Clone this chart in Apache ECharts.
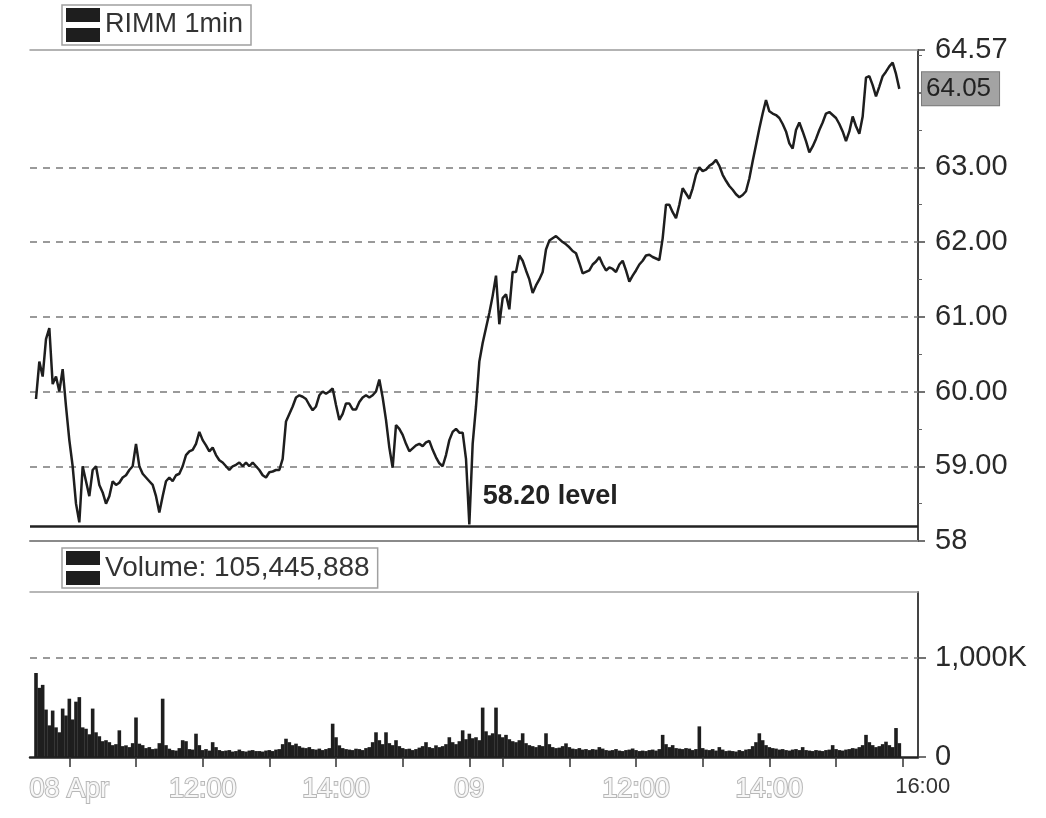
<!DOCTYPE html>
<html>
<head>
<meta charset="utf-8">
<script src="https://cdn.jsdelivr.net/npm/echarts@6/dist/echarts.min.js"></script>
<style>
html,body{margin:0;padding:0;background:#fff;}
#chart{width:1046px;height:818px;}
</style>
</head>
<body>
<div id="chart"></div>
<script>
// ---- data (3-minute samples, two sessions) ----
const symbolName = 'RIMM 1min';
const volumeName = 'Volume';
const volumeTotal = 105445888;

const day1Price = [
  59.9, 60.4, 60.2, 60.7, 60.85, 60.1, 60.2, 60.0, 60.3, 59.8,
  59.35, 59.0, 58.5, 58.25, 59.0, 58.8, 58.6, 58.95, 59.0, 58.75,
  58.65, 58.5, 58.6, 58.8, 58.75, 58.78, 58.85, 58.88, 58.95, 59.0,
  59.3, 59.0, 58.9, 58.85, 58.8, 58.75, 58.6, 58.38, 58.6, 58.8,
  58.85, 58.8, 58.88, 58.9, 59.0, 59.15, 59.2, 59.22, 59.3, 59.46,
  59.35, 59.28, 59.2, 59.25, 59.15, 59.08, 59.05, 59.0, 58.95, 59.0,
  59.02, 59.05, 59.0, 59.05, 59.0, 59.05, 59.0, 58.95, 58.88, 58.85,
  58.92, 58.93, 58.95, 58.95, 59.1, 59.6, 59.7, 59.8, 59.92, 59.95,
  59.93, 59.9, 59.82, 59.75, 59.8, 59.95, 60.0, 59.97, 60.0, 60.04,
  59.82, 59.62, 59.7, 59.84, 59.84, 59.76, 59.76, 59.86, 59.92, 59.95,
  59.92, 59.95, 60.0, 60.16, 59.92, 59.62, 59.25, 58.98, 59.55, 59.5,
  59.42, 59.3, 59.2, 59.24, 59.28, 59.3, 59.27, 59.32, 59.34, 59.22,
  59.12, 59.04, 59.0, 59.15, 59.35, 59.46, 59.5, 59.45, 59.45, 59.1
];
const day2Price = [
  58.22, 59.3, 59.8, 60.4, 60.65, 60.85, 61.05, 61.28, 61.55, 60.9,
  61.25, 61.3, 61.1, 61.6, 61.6, 61.82, 61.75, 61.62, 61.5, 61.32,
  61.42, 61.5, 61.6, 61.9, 62.02, 62.05, 62.08, 62.04, 62.0, 61.97,
  61.93, 61.88, 61.85, 61.72, 61.58, 61.6, 61.62, 61.7, 61.74, 61.8,
  61.7, 61.62, 61.66, 61.64, 61.6, 61.7, 61.75, 61.62, 61.47, 61.55,
  61.62, 61.7, 61.75, 61.82, 61.83, 61.8, 61.78, 61.76, 62.05, 62.5,
  62.5, 62.4, 62.32, 62.5, 62.72, 62.65, 62.58, 62.72, 62.9, 63.0,
  62.95, 62.97, 63.02, 63.05, 63.1, 63.02, 62.9, 62.82, 62.75, 62.7,
  62.64, 62.6, 62.63, 62.68, 62.85, 63.08, 63.3, 63.52, 63.72, 63.9,
  63.75, 63.72, 63.7, 63.66, 63.58, 63.48, 63.32, 63.25, 63.5, 63.6,
  63.48, 63.35, 63.2, 63.28, 63.38, 63.5, 63.6, 63.72, 63.74, 63.7,
  63.66, 63.58, 63.48, 63.35, 63.48, 63.68, 63.55, 63.45, 63.68, 64.2,
  64.22, 64.1, 63.95, 64.08, 64.22, 64.28, 64.35, 64.4, 64.25, 64.05
];
// volume in thousands of shares
const day1Volume = [
  850, 700, 730, 480, 320, 470, 300, 250, 490, 420,
  590, 380, 560, 606, 300, 286, 230, 490, 250, 210,
  160, 170, 150, 120, 130, 270, 110, 118, 100, 140,
  400, 135, 120, 90, 100, 80, 85, 140, 590, 120,
  84, 70, 65, 90, 170, 160, 80, 75, 236, 120,
  70, 80, 65, 150, 100, 70, 60, 65, 70, 55,
  60, 75, 60, 55, 65, 70, 60, 60, 55, 65,
  70, 60, 75, 80, 130, 185, 150, 120, 135, 110,
  95, 90, 100, 80, 75, 85, 70, 80, 90, 337,
  200, 118, 90, 80, 75, 70, 84, 80, 70, 90,
  100, 150, 250, 170, 130, 250, 140, 120, 170, 110,
  90, 80, 84, 70, 80, 95, 110, 150, 100, 90,
  118, 100, 110, 130, 200, 150, 130, 160, 270, 180
];
const day2Volume = [
  236, 190, 200, 170, 500, 260, 220, 240, 500, 230,
  200, 224, 180, 160, 150, 170, 240, 140, 120, 110,
  100, 120, 110, 240, 130, 100, 90, 95, 110, 138,
  100, 85, 80, 90, 75, 80, 70, 80, 75, 100,
  85, 70, 65, 70, 80, 65, 60, 70, 75, 86,
  70, 60, 65, 60, 70, 75, 65, 80, 224, 130,
  100, 120, 90, 85, 80, 90, 85, 70, 80, 310,
  90, 75, 70, 80, 65, 100, 75, 60, 65, 60,
  55, 70, 60, 75, 80, 110, 150, 240, 170, 120,
  100, 90, 85, 75, 80, 70, 65, 75, 80, 70,
  100, 70, 65, 60, 70, 65, 60, 70, 75, 120,
  80, 70, 65, 75, 80, 90, 85, 100, 120, 224,
  150, 120, 100, 110, 130, 155, 120, 100, 293, 140
];

// axis ticks / labels (x in 3-minute sample index)
const xTickIdx = [10, 30, 50, 70, 90, 110, 130, 140, 160, 180, 200, 220, 240, 260];
const xLabelIdx = [10, 50, 90, 130, 180, 220, 260];
const xLabelText = ['08 Apr', '12:00', '14:00', '09', '12:00', '14:00', '16:00'];
const priceTickValues = [58, 59, 60, 61, 62, 63, 64.57];
const priceTickText = ['58', '59.00', '60.00', '61.00', '62.00', '63.00', '64.57'];
const priceGridValues = [59, 60, 61, 62, 63];
const supportLevel = 58.20;
const supportText = '58.20 level';
const volTickValues = [0, 1000];
const volTickText = ['0', '1,000K'];
const volGridValues = [1000];

// ---- build ----
const prices = day1Price.concat(day2Price);
const volumes = day1Volume.concat(day2Volume);
const priceData = prices.map((v, i) => [i, v]);
const volData = volumes.map((v, i) => [i, v]);
const lastPrice = prices[prices.length - 1];

function commas(n) { return String(n).replace(/\B(?=(\d{3})+(?!\d))/g, ','); }

const FONT = 'Liberation Sans, Arial, Helvetica, sans-serif';
const INK = '#1e1e1e';
const XMIN = -1.8, XMAX = 264.6;

const chart = echarts.init(document.getElementById('chart'), null, {renderer: 'canvas'});
const iconPath = 'path://M0,0H34V14H0Z M0,20H34V34H0Z';

const dashed = {type: [7, 6], color: '#7a7a7a', width: 1.6};

chart.setOption({
  animation: false,
  backgroundColor: '#ffffff',
  textStyle: {fontFamily: FONT},
  legend: [
    {
      data: [symbolName], left: 62, top: 5, z: 10,
      icon: iconPath, itemWidth: 34, itemHeight: 34, itemGap: 8,
      backgroundColor: '#fff', borderColor: '#a0a0a0', borderWidth: 1.5,
      padding: [3, 8, 3, 4],
      textStyle: {fontSize: 27, color: '#333', fontFamily: FONT},
      selectedMode: false
    },
    {
      data: [volumeName], left: 62, top: 548, z: 10,
      icon: iconPath, itemWidth: 34, itemHeight: 34,
      backgroundColor: '#fff', borderColor: '#a0a0a0', borderWidth: 1.5,
      padding: [3, 8, 3, 4],
      formatter: n => n + ': ' + commas(volumeTotal),
      textStyle: {fontSize: 28, color: '#333', fontFamily: FONT},
      selectedMode: false
    }
  ],
  grid: [
    {left: 30, right: 128, top: 50, height: 491},
    {left: 30, right: 128, top: 592, height: 165}
  ],
  xAxis: [
    {type: 'value', gridIndex: 0, min: XMIN, max: XMAX, position: 'bottom',
     axisLine: {show: true, onZero: false, lineStyle: {color: '#8a8a8a', width: 2}},
     axisTick: {show: false}, axisLabel: {show: false}, splitLine: {show: false}},
    {type: 'value', gridIndex: 0, min: XMIN, max: XMAX, position: 'top',
     axisLine: {show: true, onZero: false, lineStyle: {color: '#9a9a9a', width: 1.5}},
     axisTick: {show: false}, axisLabel: {show: false}, splitLine: {show: false}},
    {type: 'value', gridIndex: 1, min: XMIN, max: XMAX, position: 'bottom',
     axisLine: {show: true, onZero: false, lineStyle: {color: '#222', width: 2.5}},
     axisTick: {show: true, customValues: xTickIdx, length: 10, lineStyle: {color: '#333', width: 1.5}},
     axisLabel: {
       show: true, customValues: xLabelIdx, margin: 19,
       formatter: v => {
         const k = xLabelIdx.indexOf(Math.round(v));
         const t = k >= 0 ? xLabelText[k] : '';
         return k === xLabelIdx.length - 1 ? '{last|' + t + '}' : '{f|' + t + '}';
       },
       rich: {
         f: {fontSize: 27, color: '#f7f7f7', textBorderColor: '#b8b8b8', textBorderWidth: 2, fontFamily: FONT},
         last: {fontSize: 22, color: '#333', padding: [0, 0, 0, 40], fontFamily: FONT}
       }
     },
     splitLine: {show: false}},
    {type: 'value', gridIndex: 1, min: XMIN, max: XMAX, position: 'top',
     axisLine: {show: true, onZero: false, lineStyle: {color: '#a0a0a0', width: 1.5}},
     axisTick: {show: false}, axisLabel: {show: false}, splitLine: {show: false}}
  ],
  yAxis: [
    {type: 'value', gridIndex: 0, position: 'right', min: 58, max: 64.57, interval: 1,
     axisLine: {show: true, onZero: false, lineStyle: {color: '#444', width: 2}},
     axisTick: {show: true, length: 7, lineStyle: {color: '#444', width: 1.5}},
     minorTick: {show: true, splitNumber: 2, length: 4, lineStyle: {color: '#666'}},
     axisLabel: {
       customValues: priceTickValues, margin: 17, fontSize: 29, color: '#2a2a2a', fontFamily: FONT,
       formatter: v => {
         const k = priceTickValues.findIndex(p => Math.abs(p - v) < 1e-6);
         return k >= 0 ? priceTickText[k] : '';
       }
     },
     splitLine: {show: false}},
    {type: 'value', gridIndex: 1, position: 'right', min: 0, max: 1670,
     axisLine: {show: true, onZero: false, lineStyle: {color: '#444', width: 2}},
     axisTick: {show: true, customValues: volTickValues, length: 8, lineStyle: {color: '#444', width: 1.5}},
     axisLabel: {
       customValues: volTickValues, margin: 17, fontSize: 29, color: '#2a2a2a', fontFamily: FONT,
       formatter: v => {
         const k = volTickValues.indexOf(v);
         return k >= 0 ? volTickText[k] : '';
       }
     },
     splitLine: {show: false}}
  ],
  series: [
    {
      name: symbolName, type: 'line', xAxisIndex: 0, yAxisIndex: 0,
      data: priceData, showSymbol: false, symbol: 'none',
      lineStyle: {color: INK, width: 2.5}, itemStyle: {color: INK},
      z: 5,
      markLine: {
        silent: true, symbol: 'none', animation: false,
        data: priceGridValues.map(v => ({yAxis: v, lineStyle: dashed, label: {show: false}}))
          .concat([
            {yAxis: supportLevel, lineStyle: {type: 'solid', color: '#222', width: 2.5}, label: {show: false}},
            {yAxis: lastPrice, lineStyle: {type: 'solid', width: 1, color: 'rgba(0,0,0,0)'},
             label: {show: true, position: 'end', distance: 4, formatter: () => lastPrice.toFixed(2),
                     fontSize: 26, color: '#222', backgroundColor: '#a3a3a3', borderColor: '#7a7a7a', borderWidth: 1,
                     padding: [4, 8, 3, 4], fontFamily: FONT}}
          ])
      },
      markPoint: {
        silent: true, symbol: 'circle', symbolSize: 0,
        data: [{coord: [134, supportLevel], value: supportText}],
        label: {show: true, position: 'right', distance: 0, offset: [0, -30],
                formatter: supportText, fontSize: 27, fontWeight: 'bold', color: '#222', fontFamily: FONT}
      }
    },
    {
      name: volumeName, type: 'bar', xAxisIndex: 2, yAxisIndex: 1,
      data: volData, barWidth: 3.6, itemStyle: {color: INK},
      markLine: {
        silent: true, symbol: 'none', animation: false,
        data: volGridValues.map(v => ({yAxis: v, lineStyle: dashed, label: {show: false}}))
      }
    }
  ]
});
</script>
</body>
</html>
